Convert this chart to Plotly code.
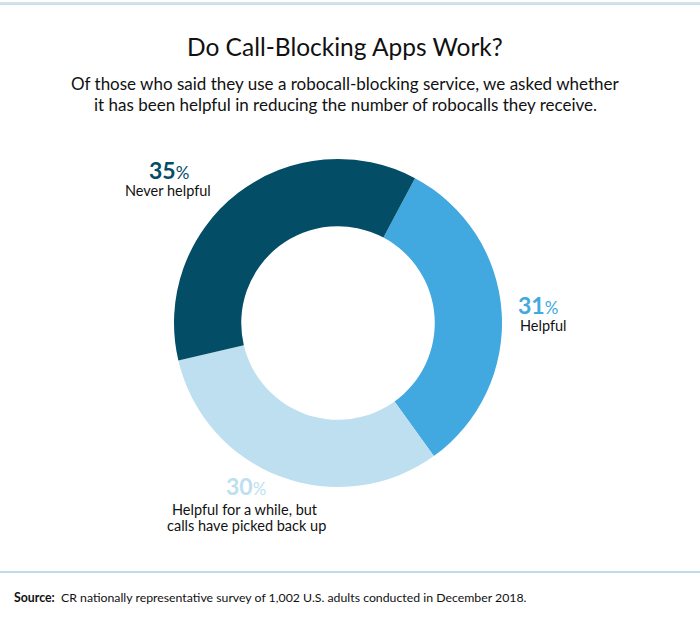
import plotly.graph_objects as go

categories = ["Helpful", "Helpful for a while, but calls have picked back up", "Never helpful"]
values = [31, 30, 35]
colors = ["#41a9e0", "#bddff0", "#044d66"]

W, H = 700, 625
def px(x): return x / W
def py(y): return 1 - y / H

cx, cy, r = 338, 323, 164

fig = go.Figure(go.Pie(
    labels=categories, values=values, hole=0.59, sort=False,
    direction="clockwise", rotation=28,
    marker=dict(colors=colors, line=dict(width=0)),
    textinfo="none", hoverinfo="label+percent", showlegend=False,
    domain=dict(x=[px(cx - r), px(cx + r)], y=[py(cy + r), py(cy - r)]),
))

font = "Lato, 'Noto Sans', sans-serif"
ann = []
def add(x, y, text, size, color="#111111", xanchor="center"):
    ann.append(dict(x=px(x), y=py(y), xref="paper", yref="paper", text=text,
                    showarrow=False, xanchor=xanchor, yanchor="middle",
                    font=dict(family=font, size=size, color=color)))

add(345, 46, "Do Call-Blocking Apps Work?", 24.5)
add(345, 83, "Of those who said they use a robocall-blocking service, we asked whether", 17)
add(345, 104, "it has been helpful in reducing the number of robocalls they receive.", 17)

def pct(v):
    return f"<b>{v}</b><span style='font-size:17px'>%</span>"

add(169, 170, pct(values[2]), 23, colors[2])
add(168, 190, "Never helpful", 14.5)
add(538, 305, pct(values[0]), 23, colors[0])
add(543, 325, "Helpful", 14.5)
add(246, 486, pct(values[1]), 23, colors[1])
add(245, 509, "Helpful for a while, but", 14.5)
add(246, 525, "calls have picked back up", 14.5)
add(12, 597, "<b>Source:</b>  CR nationally representative survey of 1,002 U.S. adults conducted in December 2018.", 12.3, xanchor="left")

shapes = [
    dict(type="line", xref="paper", yref="paper", x0=0, x1=1, y0=py(3), y1=py(3),
         line=dict(color="#a8c8cf", width=1.2)),
    dict(type="line", xref="paper", yref="paper", x0=0, x1=1, y0=py(4.5), y1=py(4.5),
         line=dict(color="#c4e2ee", width=1.2)),
    dict(type="line", xref="paper", yref="paper", x0=0, x1=1, y0=py(572), y1=py(572),
         line=dict(color="#a9d2df", width=1.5)),
]

fig.update_layout(width=W, height=H, margin=dict(l=0, r=0, t=0, b=0),
                  paper_bgcolor="white", plot_bgcolor="white",
                  annotations=ann, shapes=shapes, font=dict(family=font))
fig.write_html("out.html", config={"displayModeBar": False},
               post_script="document.body.style.margin='0';")
